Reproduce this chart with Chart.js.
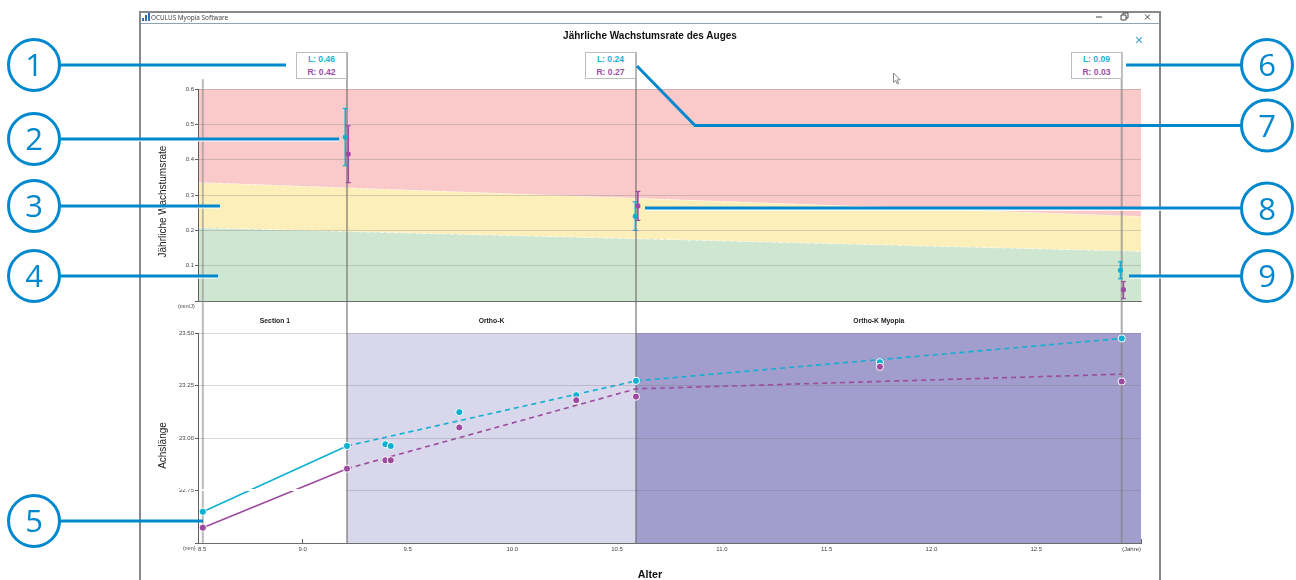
<!DOCTYPE html>
<html lang="de">

<head>
    <meta charset="UTF-8">
    <title>OCULUS Myopia Software</title>
    <style>
        * {
            margin: 0;
            padding: 0;
            box-sizing: border-box;
        }

        body {
            width: 1296px;
            height: 580px;
            overflow: hidden;
            position: relative;
            background: #fff;
            font-family: 'Liberation Sans', sans-serif;
        }

        canvas {
            position: absolute;
            left: 0;
        }

        #rate_chart {
            top: 0;
        }

        #axial_chart {
            top: 301px;
        }

        /* Fenster */
        #window_frame {
            position: absolute;
            left: 139px;
            top: 11px;
            width: 1022px;
            height: 580px;
            border: 2px solid #85898c;
        }

        #title_line {
            position: absolute;
            left: 141px;
            top: 23px;
            width: 1018px;
            height: 1px;
            background: #8fa3b3;
        }

        #window_name {
            position: absolute;
            left: 151px;
            top: 13px;
            font-family: 'Noto Sans', sans-serif;
            font-size: 6.4px;
            line-height: 9px;
            color: #444;
        }

        .text {
            position: absolute;
            white-space: nowrap;
        }

        #main_title {
            left: 450px;
            width: 400px;
            top: 30px;
            text-align: center;
            font-size: 10px;
            font-weight: bold;
            color: #111;
        }

        #close_x {
            left: 1135px;
            top: 33px;
            font-size: 14px;
            line-height: 14px;
            color: #3f9fd6;
        }

        #x_title {
            left: 600px;
            width: 100px;
            top: 568px;
            text-align: center;
            font-size: 10.7px;
            font-weight: bold;
            color: #111;
        }

        .y-title {
            width: 140px;
            text-align: center;
            font-size: 10px;
            color: #222;
            transform: rotate(-90deg);
            transform-origin: center;
        }

        .unit {
            font-size: 5.4px;
            color: #444;
        }

        .value-box {
            position: absolute;
            top: 52px;
            width: 51px;
            height: 27px;
            border: 1px solid #bdbdbd;
            background: #fff;
            font-size: 8.6px;
            font-weight: bold;
            line-height: 13px;
            text-align: center;
        }

        .value-box .left {
            color: #22b1d4;
        }

        .value-box .right {
            color: #9a4fa3;
        }

        .patch {
            position: absolute;
            background: #fff;
        }

        #overlay {
            position: absolute;
            left: 0;
            top: 0;
        }
    </style>
</head>

<body>
    <canvas id="rate_chart" width="1296" height="310"></canvas>
    <canvas id="axial_chart" width="1296" height="279"></canvas>

    <div id="window_frame"></div>
    <div id="title_line"></div>
    <div id="window_name">OCULUS Myopia Software</div>

    <div class="text" id="main_title">Jährliche Wachstumsrate des Auges</div>
    <div class="text" id="close_x">×</div>
    <div class="text y-title" style="left: 92px; top: 196px;">Jährliche Wachstumsrate</div>
    <div class="text y-title" style="left: 92px; top: 440px;">Achslänge</div>
    <div class="text" id="x_title">Alter</div>
    <div class="text unit" style="left: 178px; top: 303px;">(mm/J)</div>
    <div class="text unit" style="left: 183px; top: 545px;">(mm)</div>

    <!-- Bildfehler im Original an der 22.75-Linie -->
    <div class="patch" style="left: 180px; top: 485px; width: 17px; height: 4px;"></div>
    <div class="patch" style="left: 199px; top: 489px; width: 147px; height: 2px;"></div>

    <div id="boxes"></div>

    <svg id="overlay" width="1296" height="580" font-family="'Open Sans', sans-serif" font-size="31"
        text-anchor="middle" fill="#0088ce">
        <!-- Fensterknöpfe und Icon -->
        <g stroke="#444" stroke-width="1" fill="none">
            <path d="M1096 17h6" />
            <path d="M1121 15h5v5h-5z M1123 15v-2h5v5h-2" />
            <path d="M1145 14.5l5 5 M1150 14.5l-5 5" />
        </g>
        <path d="M142 21v-3h2v3z M145 21v-6h2v6z M148 21v-8h2v8z" fill="#2f6fb5" />
        <path d="M893.500 73l0 9.500 2.200-2 1.600 3.500 1.400-.7-1.600-3.400 3-.2z" fill="#fff" stroke="#666" stroke-width=".8" />

        <!-- Weiße Unterkante der Hinweislinien -->
        <g stroke="#fff" stroke-width="2" fill="none">
            <path d="M60 140.500H339 M145 207.500H220 M145 277.500H218 M645 209.800H1241 M1129 277.500H1241" />
        </g>
        <g stroke="#0088ce" stroke-width="3" fill="none">
            <path d="M59 65H286 M59 139H339 M59 206H220 M59 276H218 M59 521H203" />
            <path d="M1126 65H1241 M637 66L695 125.500H1241 M645 208H1241 M1129 276H1241" />
            <circle cx="34" cy="65" r="25.500" fill="#fff" />
            <circle cx="34" cy="139" r="25.500" fill="#fff" />
            <circle cx="34" cy="206" r="25.500" fill="#fff" />
            <circle cx="34" cy="276" r="25.500" fill="#fff" />
            <circle cx="34" cy="521" r="25.500" fill="#fff" />
            <circle cx="1267" cy="65" r="25.500" fill="#fff" />
            <circle cx="1267" cy="125.500" r="25.500" fill="#fff" />
            <circle cx="1267" cy="208.500" r="25.500" fill="#fff" />
            <circle cx="1267" cy="276" r="25.500" fill="#fff" />
        </g>
        <text x="34" y="76">1</text>
        <text x="34" y="150">2</text>
        <text x="34" y="217">3</text>
        <text x="34" y="287">4</text>
        <text x="34" y="532">5</text>
        <text x="1267" y="76">6</text>
        <text x="1267" y="136.500">7</text>
        <text x="1267" y="219.500">8</text>
        <text x="1267" y="287">9</text>
    </svg>

    <script src="https://cdn.jsdelivr.net/npm/chart.js"></script>
    <script>
        // Wachstumsrate (oben)
        const bandAges = [8.5, 13];
        const redTop = [0.6, 0.6];
        const yellowTop = [0.336, 0.24];
        const greenTop = [0.208, 0.141];

        const rateAgesL = [9.203, 10.587, 12.902];
        const rateL = [0.464, 0.24, 0.087];
        const rateLowL = [0.383, 0.2, 0.063];
        const rateHighL = [0.545, 0.281, 0.111];

        const rateAgesR = [9.217, 10.599, 12.916];
        const rateR = [0.416, 0.269, 0.032];
        const rateLowR = [0.335, 0.228, 0.007];
        const rateHighR = [0.496, 0.31, 0.055];

        const boxAges = [9.211, 10.59, 12.908];
        const boxL = ['0.46', '0.24', '0.09'];
        const boxR = ['0.42', '0.27', '0.03'];

        // Achslänge (unten)
        const agesL = [8.523, 9.211, 9.394, 9.42, 9.747, 10.305, 10.59, 11.754, 12.908];
        const axialL = [22.649, 22.962, 22.97, 22.962, 23.123, 23.204, 23.272, 23.361, 23.474];
        const agesR = [8.523, 9.211, 9.394, 9.42, 9.747, 10.305, 10.59, 11.754, 12.908];
        const axialR = [22.573, 22.854, 22.894, 22.894, 23.05, 23.18, 23.197, 23.339, 23.269];

        const solidAges = [8.523, 9.211];
        const solidL = [22.649, 22.962];
        const solidR = [22.573, 22.854];
        const trendAges = [9.211, 10.59, 12.908];
        const trendL = [22.962, 23.272, 23.474];
        const trendR = [22.854, 23.234, 23.304];

        const sectionNames = ['Section 1', 'Ortho-K', 'Ortho-K Myopia'];
        const sectionStart = [8.523, 9.211, 10.59];
        const sectionEnd = [9.211, 10.59, 12.908];

        // Senkrechte Linien: Alter, obere Enden in beiden Diagrammen
        const markerAges = [8.523, 9.211, 10.59, 12.908];
        const markerTopRate = [0.628, 0.705, 0.705, 0.705];
        const markerBottomRate = [0, 0, 0, 0];
        const markerBottomAxial = [22.5, 22.5, 22.5, 22.5];
        const markerTopAxial = [23.652, 23.652, 23.652, 23.652];
        const markerColors = ['rgba(150,150,150,.65)', 'rgba(100,100,100,.7)', 'rgba(100,100,100,.7)', 'rgba(130,130,130,.65)'];
        const markerWidths = [2, 1.5, 1.5, 2];

        const CYAN = '#0fb0d2';
        const PURPLE = '#9c4b9f';

        function zip(xs, ys) {
            return xs.map((x, i) => ({ x: x, y: ys[i] }));
        }

        function lineSet(xs, ys, color, dashed) {
            return {
                data: zip(xs, ys),
                borderColor: color,
                borderWidth: 1.6,
                borderDash: dashed ? [5, 4] : [],
                pointRadius: 0,
                fill: false
            };
        }

        function pointSet(xs, ys, color, radius, border) {
            return {
                data: zip(xs, ys),
                showLine: false,
                pointRadius: radius,
                pointBackgroundColor: color,
                pointBorderColor: '#fff',
                pointBorderWidth: border
            };
        }

        function errorSet(xs, lows, highs, color) {
            const data = [];
            xs.forEach((x, i) => {
                data.push({ x: x, y: lows[i] }, { x: x, y: highs[i] }, { x: x, y: null });
            });
            return {
                data: data,
                borderColor: color,
                borderWidth: 1.6,
                pointStyle: 'line',
                pointRadius: 2.5,
                pointBorderColor: color,
                pointBorderWidth: 1.2,
                clip: false
            };
        }

        function markerSets(bottoms, tops) {
            return markerAges.map((age, i) => ({
                data: [{ x: age, y: bottoms[i] }, { x: age, y: tops[i] }],
                borderColor: markerColors[i],
                borderWidth: markerWidths[i],
                pointRadius: 0,
                clip: false
            }));
        }

        function bandSet(ys, color, fill, edge) {
            return {
                data: zip(bandAges, ys),
                backgroundColor: color,
                borderColor: edge ? '#fff' : 'transparent',
                borderWidth: edge ? 1.2 : 0,
                borderDash: [4, 3],
                pointRadius: 0,
                fill: fill
            };
        }

        function shadeSet(start, end, top, color) {
            return {
                data: [{ x: start, y: top }, { x: end, y: top }],
                backgroundColor: color,
                borderWidth: 0,
                pointRadius: 0,
                fill: 'start'
            };
        }

        const tickFont = { family: "'Liberation Sans', sans-serif", size: 6 };
        const gridColor = 'rgba(110,110,110,.28)';

        function yScale(min, max, step, digits, hideValue, width) {
            return {
                min: min,
                max: max,
                afterFit: function (scale) { scale.width = width; },
                // z über dem Gitter, sonst steht _borderValue beim Zeichnen noch auf 0
                border: { color: '#5f5f5f', width: 1, z: 2 },
                grid: { color: gridColor, z: 1, tickColor: '#5f5f5f', tickLength: 3 },
                ticks: {
                    stepSize: step,
                    padding: 1,
                    color: '#444',
                    font: tickFont,
                    callback: function (value) {
                        return value === hideValue ? '' : value.toFixed(digits);
                    }
                }
            };
        }

        function baseOptions(xAxis, yAxis, top) {
            return {
                responsive: false,
                animation: false,
                layout: { padding: { left: 150, right: 155, top: top, bottom: 0 } },
                plugins: { legend: { display: false }, tooltip: { enabled: false } },
                elements: { line: { tension: 0 } },
                scales: { x: xAxis, y: yAxis }
            };
        }

        const rateChart = new Chart(document.getElementById('rate_chart'), {
            type: 'line',
            data: {
                datasets: [
                    pointSet(rateAgesR, rateR, PURPLE, 2.6, 0),
                    pointSet(rateAgesL, rateL, CYAN, 2.6, 0),
                    errorSet(rateAgesR, rateLowR, rateHighR, PURPLE),
                    errorSet(rateAgesL, rateLowL, rateHighL, CYAN)
                ].concat(markerSets(markerBottomRate, markerTopRate), [
                    bandSet(redTop, '#fac9c9', '+1', false),
                    bandSet(yellowTop, '#fcefb9', '+1', true),
                    bandSet(greenTop, '#cfe6d1', 'start', true)
                ])
            },
            options: baseOptions({
                type: 'linear',
                min: 8.5,
                max: 13,
                afterFit: function (scale) { scale.height = 9; },
                border: { color: '#6b6b6b', width: 1 },
                grid: { display: false },
                ticks: { display: false }
            }, yScale(0, 0.6, 0.1, 1, 0, 48), 89)
        });

        // Abschnittsnamen über dem unteren Diagramm
        const sectionLabels = {
            id: 'sectionLabels',
            afterDraw: function (chart) {
                const c = chart.ctx;
                c.save();
                c.font = "bold 6.8px 'Liberation Sans', sans-serif";
                c.fillStyle = '#222';
                c.textAlign = 'center';
                c.textBaseline = 'middle';
                sectionNames.forEach((name, i) => {
                    const mid = (sectionStart[i] + sectionEnd[i]) / 2;
                    c.fillText(name, chart.scales.x.getPixelForValue(mid), 20);
                });
                c.restore();
            }
        };

        const axialChart = new Chart(document.getElementById('axial_chart'), {
            type: 'line',
            data: {
                datasets: [
                    pointSet(agesR, axialR, PURPLE, 3.6, 1),
                    pointSet(agesL, axialL, CYAN, 3.6, 1),
                    lineSet(solidAges, solidR, PURPLE, false),
                    lineSet(solidAges, solidL, CYAN, false),
                    lineSet(trendAges, trendR, PURPLE, true),
                    lineSet(trendAges, trendL, CYAN, true)
                ].concat(markerSets(markerBottomAxial, markerTopAxial), [
                    shadeSet(sectionStart[1], sectionEnd[1], 23.5, '#d9d7eb'),
                    shadeSet(sectionStart[2], 13, 23.5, '#a19dcc')
                ])
            },
            options: baseOptions({
                type: 'linear',
                min: 8.5,
                max: 13,
                afterFit: function (scale) { scale.height = 37; },
                border: { color: '#6b6b6b', width: 1 },
                grid: { drawOnChartArea: false, tickColor: '#5f5f5f', tickLength: -4 },
                ticks: {
                    stepSize: 0.5,
                    autoSkip: false,
                    maxRotation: 0,
                    align: 'inner',
                    padding: 7,
                    color: '#444',
                    font: tickFont,
                    callback: function (value) {
                        return value === 13 ? '(Jahre)' : value.toFixed(1);
                    }
                }
            }, yScale(22.5, 23.5, 0.25, 2, 22.5, 48), 32),
            plugins: [sectionLabels]
        });

        // Wertekästen rechtsbündig an den senkrechten Linien
        const boxes = document.getElementById('boxes');
        boxAges.forEach((age, i) => {
            const box = document.createElement('div');
            box.className = 'value-box';
            box.style.left = Math.round(rateChart.scales.x.getPixelForValue(age) - 50.5) + 'px';
            box.innerHTML = '<div class="left">L: ' + boxL[i] + '</div><div class="right">R: ' + boxR[i] + '</div>';
            boxes.appendChild(box);
        });
    </script>
</body>

</html>
